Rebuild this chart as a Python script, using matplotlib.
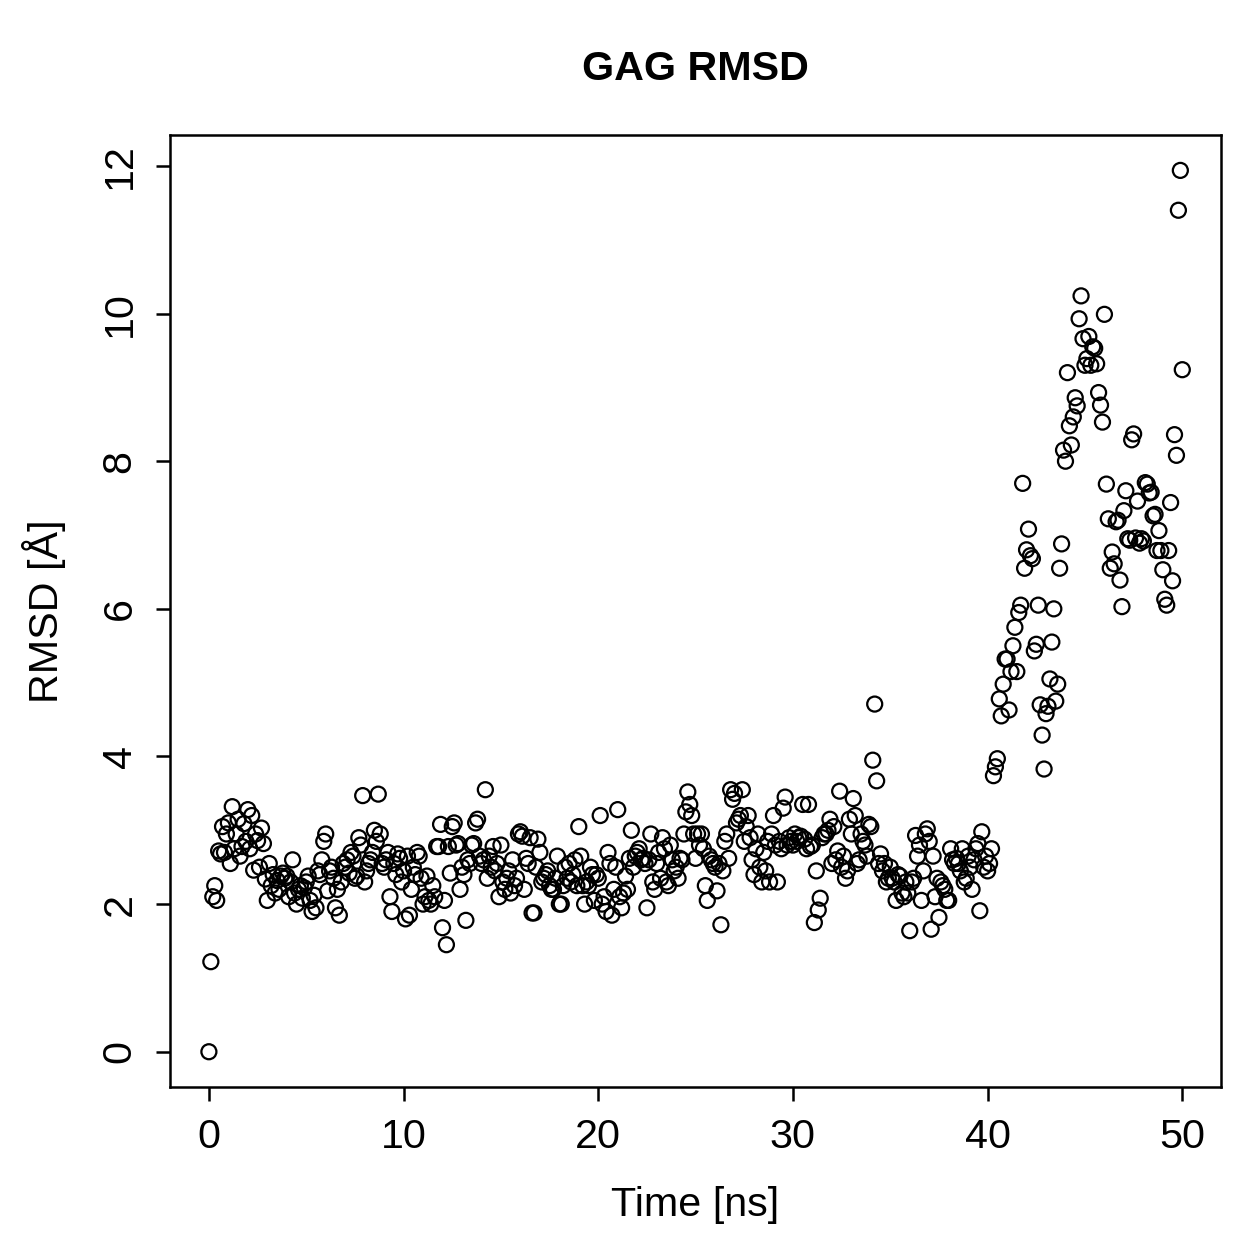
import numpy as np
import matplotlib
matplotlib.use('Agg')
import matplotlib.pyplot as plt

plt.rcParams['font.family'] = ['Liberation Sans', 'DejaVu Sans']

# RMSD values, one row per ns (0.1 ns steps)
rmsd_0_10 = [
    0.00, 1.22, 2.10, 2.25, 2.05, 2.72, 2.68, 3.05, 2.70, 2.95,
    3.10, 2.55, 3.32, 2.75, 2.95, 3.15, 2.65, 2.78, 3.09, 2.85,
    3.28, 2.75, 3.20, 2.46, 2.95, 2.86, 2.50, 3.03, 2.82, 2.34,
    2.05, 2.55, 2.25, 2.40, 2.15, 2.32, 2.20, 2.38, 2.42, 2.35,
    2.38, 2.10, 2.30, 2.60, 2.15, 2.00, 2.20, 2.25, 2.08, 2.22,
    2.30, 2.38, 2.05, 1.90, 2.12, 1.95, 2.45, 2.40, 2.60, 2.85,
    2.95, 2.18, 2.45, 2.50, 2.35, 1.95, 2.20, 1.85, 2.30, 2.55,
    2.50, 2.60, 2.42, 2.70, 2.65, 2.35, 2.38, 2.90, 2.80, 3.47,
    2.30, 2.45, 2.55, 2.60, 2.70, 3.00, 2.85, 3.49, 2.95, 2.55,
    2.50, 2.60, 2.70, 2.10, 1.90, 2.55, 2.40, 2.68, 2.62, 2.30,
]
rmsd_10_20 = [
    2.45, 1.80, 2.65, 1.85, 2.20, 2.50, 2.40, 2.70, 2.65, 2.35,
    2.00, 2.10, 2.38, 2.05, 2.00, 2.25, 2.10, 2.78, 2.78, 3.08,
    1.68, 2.05, 1.45, 2.78, 2.42, 3.05, 3.10, 2.80, 2.82, 2.20,
    2.50, 2.40, 1.78, 2.60, 2.55, 2.80, 2.82, 3.10, 3.15, 2.65,
    2.55, 2.60, 3.55, 2.35, 2.65, 2.50, 2.78, 2.45, 2.55, 2.10,
    2.80, 2.30, 2.20, 2.35, 2.45, 2.15, 2.60, 2.25, 2.35, 2.95,
    2.98, 2.92, 2.20, 2.62, 2.55, 2.90, 1.88, 1.88, 2.50, 2.88,
    2.70, 2.30, 2.35, 2.40, 2.45, 2.25, 2.20, 2.20, 2.35, 2.65,
    2.00, 2.00, 2.25, 2.50, 2.35, 2.55, 2.30, 2.40, 2.60, 2.25,
    3.05, 2.65, 2.25, 2.00, 2.30, 2.25, 2.50, 2.40, 2.05, 2.40,
]
rmsd_20_30 = [
    2.35, 3.20, 2.00, 2.10, 1.90, 2.70, 2.55, 1.85, 2.20, 2.50,
    3.28, 2.10, 1.95, 2.15, 2.38, 2.20, 2.62, 3.00, 2.50, 2.65,
    2.70, 2.75, 2.60, 2.62, 2.55, 1.95, 2.60, 2.95, 2.30, 2.20,
    2.55, 2.70, 2.35, 2.90, 2.75, 2.30, 2.25, 2.80, 2.60, 2.45,
    2.50, 2.35, 2.62, 2.60, 2.95, 3.25, 3.52, 3.35, 3.20, 2.95,
    2.62, 2.95, 2.80, 2.95, 2.75, 2.25, 2.05, 2.65, 2.60, 2.55,
    2.50, 2.18, 2.55, 1.72, 2.45, 2.85, 2.95, 2.62, 3.55, 3.42,
    3.50, 3.10, 3.15, 3.20, 3.55, 2.85, 3.05, 3.20, 2.90, 2.60,
    2.40, 2.75, 2.95, 2.50, 2.30, 2.70, 2.45, 2.85, 2.30, 2.95,
    3.20, 2.80, 2.30, 2.85, 2.75, 3.30, 3.45, 2.80, 2.90, 2.85,
]
rmsd_30_40 = [
    2.80, 2.95, 2.85, 2.90, 2.92, 3.35, 2.88, 2.75, 3.35, 2.78,
    2.80, 1.75, 2.45, 1.92, 2.08, 2.90, 2.95, 2.95, 3.00, 3.15,
    2.55, 3.05, 2.60, 2.72, 3.53, 2.50, 2.65, 2.35, 2.45, 3.15,
    2.95, 3.43, 3.20, 2.55, 2.60, 2.95, 2.85, 2.80, 2.65, 3.08,
    3.05, 3.95, 4.71, 3.67, 2.55, 2.68, 2.45, 2.55, 2.30, 2.35,
    2.50, 2.35, 2.30, 2.05, 2.40, 2.38, 2.15, 2.10, 2.30, 2.15,
    1.64, 2.30, 2.35, 2.93, 2.65, 2.80, 2.05, 2.45, 2.95, 3.02,
    2.85, 1.66, 2.65, 2.10, 2.35, 1.82, 2.30, 2.25, 2.20, 2.05,
    2.05, 2.75, 2.60, 2.55, 2.62, 2.55, 2.45, 2.75, 2.30, 2.35,
    2.65, 2.50, 2.20, 2.60, 2.75, 2.82, 1.91, 2.98, 2.50, 2.65,
]
rmsd_40_50 = [
    2.45, 2.55, 2.75, 3.74, 3.86, 3.97, 4.78, 4.55, 4.98, 5.32,
    5.32, 4.63, 5.15, 5.50, 5.75, 5.15, 5.95, 6.05, 7.70, 6.55,
    6.80, 7.08, 6.72, 6.68, 5.43, 5.52, 6.05, 4.70, 4.29, 3.83,
    4.58, 4.68, 5.05, 5.55, 6.00, 4.75, 4.98, 6.55, 6.88, 8.15,
    8.00, 9.20, 8.48, 8.22, 8.60, 8.86, 8.75, 9.93, 10.24, 9.66,
    9.30, 9.39, 9.69, 9.30, 9.55, 9.53, 9.32, 8.93, 8.76, 8.53,
    9.99, 7.69, 7.22, 6.55, 6.77, 6.61, 7.18, 7.20, 6.39, 6.03,
    7.33, 7.60, 6.95, 6.93, 8.29, 8.37, 6.96, 7.46, 6.89, 6.95,
    6.92, 7.71, 7.69, 7.57, 7.58, 7.26, 7.28, 6.79, 7.06, 6.79,
    6.53, 6.13, 6.05, 6.79, 7.44, 6.38, 8.36, 8.08, 11.40, 11.94, 9.24,
]

rmsd = np.array(rmsd_0_10 + rmsd_10_20 + rmsd_20_30 + rmsd_30_40 + rmsd_40_50)
time = np.linspace(0, 50, len(rmsd))

x_ticks = [0, 10, 20, 30, 40, 50]
y_ticks = [0, 2, 4, 6, 8, 10, 12]

fig = plt.figure(figsize=(1259 / 180, 1259 / 180), dpi=180)
ax = fig.add_axes([0.135, 0.1366, 0.835, 0.7562])

ax.scatter(time, rmsd, s=36, facecolors='none', edgecolors='black', linewidths=0.9)

ax.set_xlim(-2, 52)
ax.set_ylim(-0.478, 12.42)
ax.set_xticks(x_ticks)
ax.set_yticks(y_ticks)
ax.set_yticklabels([str(v) for v in y_ticks], rotation=90, va='center')
ax.tick_params(length=5.5, width=1.0, labelsize=16.5, pad=7)
for sp in ax.spines.values():
    sp.set_linewidth(1.0)

ax.set_xlabel('Time [ns]', fontsize=16.5, labelpad=12)
ax.set_ylabel('RMSD [Å]', fontsize=16.5, labelpad=14)
ax.set_title('GAG RMSD', fontsize=16.5, fontweight='bold', pad=22)

fig.savefig('out.png', dpi=180)
